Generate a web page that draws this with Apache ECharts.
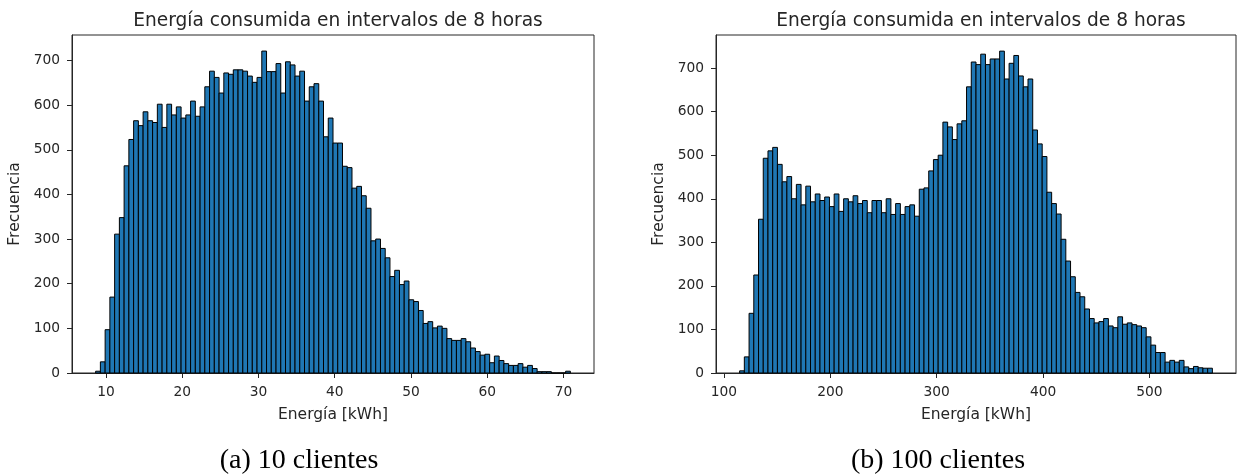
<!DOCTYPE html>
<html>
<head>
<meta charset="utf-8">
<title>Energía consumida en intervalos de 8 horas</title>
<script src="https://cdn.jsdelivr.net/npm/echarts@6/dist/echarts.min.js"></script>
<style>
  html, body { margin: 0; padding: 0; background: #fff; }
  #chart { width: 1238px; height: 475px; }
</style>
</head>
<body>
<div id="chart"></div>
<script>
// Histogram (a): 10 clientes — 100 equal bins over the energy range
const rangeA = [8.65, 70.9];
const countsA = [
  4, 25, 97, 170, 311, 348, 464, 523, 565, 554,
  585, 565, 561, 602, 550, 602, 578, 596, 571, 578,
  609, 575, 596, 641, 676, 662, 627, 672, 669, 679,
  679, 676, 665, 651, 662, 721, 675, 675, 693, 627,
  697, 690, 665, 676, 609, 641, 648, 609, 529, 571,
  515, 515, 463, 460, 414, 418, 397, 369, 296, 300,
  279, 258, 216, 230, 198, 206, 164, 160, 140, 111,
  115, 101, 105, 100, 77, 73, 73, 77, 70, 56,
  48, 40, 42, 23, 38, 28, 21, 17, 17, 21,
  13, 17, 10, 3, 3, 3, 0, 0, 0, 4
];
const ticksXA = [10, 20, 30, 40, 50, 60, 70];

// Histogram (b): 100 clientes — 100 equal bins over the energy range
const rangeB = [114.7, 559.2];
const countsB = [
  5, 37, 137, 225, 353, 493, 510, 518, 479, 439,
  451, 400, 433, 386, 429, 393, 411, 396, 404, 382,
  411, 371, 400, 393, 407, 389, 396, 368, 396, 396,
  368, 400, 364, 389, 364, 382, 386, 360, 422, 425,
  464, 490, 500, 576, 565, 536, 572, 579, 657, 714,
  708, 732, 708, 721, 721, 739, 675, 711, 729, 682,
  657, 675, 558, 526, 497, 415, 389, 365, 307, 257,
  221, 185, 175, 147, 125, 115, 118, 125, 108, 104,
  129, 112, 115, 111, 108, 104, 83, 64, 47, 47,
  25, 29, 25, 29, 14, 10, 15, 12, 11, 11
];
const ticksXB = [100, 200, 300, 400, 500];

const ticksY = [0, 100, 200, 300, 400, 500, 600, 700];

const titleText = 'Energía consumida en intervalos de 8 horas';
const xName = 'Energía [kWh]';
const yName = 'Frecuencia';
const captions = ['(a) 10 clientes', '(b) 100 clientes'];

const FONT = 'DejaVu Sans';
const INK = '#262626';

// one [left edge, right edge, count] triple per bin
function histData(range, counts) {
  const w = (range[1] - range[0]) / counts.length;
  return counts.map((c, i) => [range[0] + i * w, range[0] + (i + 1) * w, c]);
}

function renderBin(params, api) {
  const p0 = api.coord([api.value(0), api.value(2)]);
  const p1 = api.coord([api.value(1), 0]);
  return {
    type: 'rect',
    shape: { x: p0[0], y: p0[1], width: p1[0] - p0[0], height: p1[1] - p0[1] },
    style: { fill: '#1f77b4', stroke: '#000', lineWidth: 1 }
  };
}

function xAxisCfg(idx, min, max, ticks) {
  return {
    type: 'value', gridIndex: idx, min: min, max: max,
    name: xName, nameLocation: 'middle', nameGap: 34,
    nameTextStyle: { fontFamily: FONT, fontSize: 15.5, color: INK },
    axisLine: { show: true, lineStyle: { color: INK, width: 1 } },
    axisTick: { show: true, length: 5, customValues: ticks, lineStyle: { color: INK } },
    axisLabel: { customValues: ticks, margin: 12, fontFamily: FONT, fontSize: 13.8, color: INK },
    splitLine: { show: false }
  };
}

function yAxisCfg(idx, max) {
  return {
    type: 'value', gridIndex: idx, min: 0, max: max,
    name: yName, nameLocation: 'middle', nameGap: 49, nameRotate: 90,
    nameTextStyle: { fontFamily: FONT, fontSize: 15.5, color: INK },
    axisLine: { show: true, lineStyle: { color: INK, width: 1 } },
    axisTick: { show: true, length: 5, customValues: ticksY, lineStyle: { color: INK } },
    axisLabel: { customValues: ticksY, margin: 12, fontFamily: FONT, fontSize: 13.8, color: INK },
    splitLine: { show: false }
  };
}

const chart = echarts.init(document.getElementById('chart'), null, { renderer: 'canvas' });

chart.setOption({
  animation: false,
  backgroundColor: '#fff',
  title: [
    { text: titleText, left: 333, top: 7, textAlign: 'center',
      textStyle: { fontFamily: FONT, fontSize: 18.6, fontWeight: 'normal', color: INK } },
    { text: titleText, left: 976, top: 7, textAlign: 'center',
      textStyle: { fontFamily: FONT, fontSize: 18.6, fontWeight: 'normal', color: INK } }
  ],
  grid: [
    { left: 72, top: 35, width: 522, height: 338, show: true, borderColor: INK, borderWidth: 1, backgroundColor: 'transparent' },
    { left: 716, top: 35, width: 520, height: 338, show: true, borderColor: INK, borderWidth: 1, backgroundColor: 'transparent' }
  ],
  xAxis: [
    xAxisCfg(0, 5.55, 74.0, ticksXA),
    xAxisCfg(1, 92.5, 581.4, ticksXB)
  ],
  yAxis: [
    yAxisCfg(0, 757),
    yAxisCfg(1, 776)
  ],
  series: [
    { type: 'custom', xAxisIndex: 0, yAxisIndex: 0, renderItem: renderBin,
      encode: { x: [0, 1], y: 2 }, data: histData(rangeA, countsA) },
    { type: 'custom', xAxisIndex: 1, yAxisIndex: 1, renderItem: renderBin,
      encode: { x: [0, 1], y: 2 }, data: histData(rangeB, countsB) }
  ],
  graphic: [
    { type: 'text', style: {
        text: captions[0], x: 299, y: 461, align: 'center', verticalAlign: 'middle',
        fontFamily: 'Liberation Serif', fontSize: 28, fill: '#000' } },
    { type: 'text', style: {
        text: captions[1], x: 938, y: 461, align: 'center', verticalAlign: 'middle',
        fontFamily: 'Liberation Serif', fontSize: 28, fill: '#000' } }
  ]
});
</script>
</body>
</html>
